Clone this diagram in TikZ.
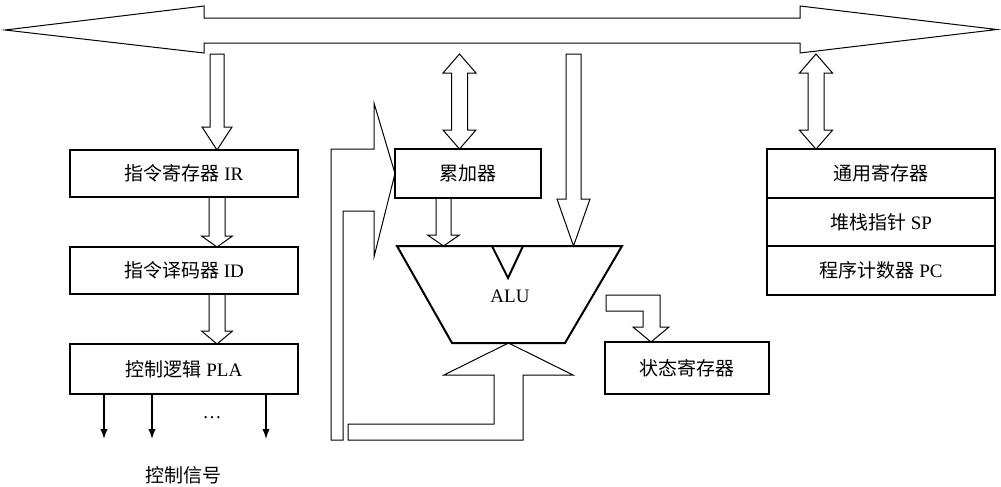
\documentclass[tikz,border=0pt]{standalone}
\usepackage{fontspec}
\setmainfont{Liberation Serif}
\newfontfamily\cjk{Noto Sans CJK SC}
\usetikzlibrary{arrows.meta, positioning, calc}
\newcommand{\lbl}{\fontsize{9.5}{11}\selectfont}
\tikzset{
  every picture/.style={line width=0.5pt, x=0.5pt, y=-0.5pt},
  box/.style={draw, line width=1pt, outer sep=0pt, inner sep=0pt, minimum width=#1, minimum height=24.5pt, font=\lbl},
  box/.default=114pt,
  fat/.style={draw, line width=0.5pt, line join=miter},
  alu/.style={draw, line width=1pt, line join=miter},
  sig/.style={-{Latex[length=5pt, width=3.6pt]}, line width=0.6pt},
  lbl/.style={font=\lbl},
}
% block arrows: start, tip, shaft half width, head half width, head length
\newcommand{\fatdown}[5]{%
  \draw[fat] let \p1=(#1), \p2=(#2) in
    (\x2-#3,\y1) -- (\x2-#3,\y2+#5) -- (\x2-#4,\y2+#5) -- (\p2)
    -- (\x2+#4,\y2+#5) -- (\x2+#3,\y2+#5) -- (\x2+#3,\y1) -- cycle;}
\newcommand{\fatboth}[5]{%
  \draw[fat] let \p1=(#1), \p2=(#2) in
    (\p1) -- (\x1+#4,\y1-#5) -- (\x1+#3,\y1-#5) -- (\x1+#3,\y2+#5)
    -- (\x1+#4,\y2+#5) -- (\x1,\y2) -- (\x1-#4,\y2+#5) -- (\x1-#3,\y2+#5)
    -- (\x1-#3,\y1-#5) -- (\x1-#4,\y1-#5) -- cycle;}

\begin{document}
\begin{tikzpicture}
  \useasboundingbox (0,0) rectangle (1001,487);
  \draw[fat] (5,30) -- (204,6) -- (204,18) -- (800,18) -- (800,6) -- (997,29.5)
    -- (800,53) -- (800,43) -- (204,43) -- (204,53) -- cycle;
  \coordinate (busfoot) at (500,54);

  \node[box, minimum height=23.5pt] (ir) at (184,173.5) {{\cjk 指令寄存器} IR};
  \node[box, minimum height=23.5pt, below=25pt of ir] (id) {{\cjk 指令译码器} ID};
  \node[box, minimum height=25pt, below=25pt of id] (pla) {{\cjk 控制逻辑} PLA};
  \node[box=73pt] (acc) at (468,173.5) {\cjk 累加器};
  \node[box=82pt, minimum height=26pt] (status) at (687,368) {\cjk 状态寄存器};
  \node[box, minimum height=24.3pt] (gp) at (881,173.5) {\cjk 通用寄存器};
  \node[box, minimum height=24.3pt, below=0pt of gp] (sp) {{\cjk 堆栈指针} SP};
  \node[box, minimum height=24.3pt, below=0pt of sp] (pc) {{\cjk 程序计数器} PC};

  \draw[alu] (397,246) -- (622,246) -- (565,343) -- (452,343) -- cycle;
  \draw[alu] (492,246) -- (508,278) -- (523,246);
  \node[lbl] (alu) at (510,296) {ALU};
  \coordinate (alutop) at (510,246);
  \coordinate (alubot) at (508.5,343);

  \coordinate (k1) at (217,0);
  \coordinate (k2) at (459.5,0);
  \coordinate (k3) at (443.5,0);
  \coordinate (k4) at (816,0);
  \coordinate (k5) at (573.5,0);
  \coordinate (k6) at (651,0);
  \fatdown{k1 |- busfoot}{k1 |- ir.north}{3.5pt}{7.5pt}{11.5pt}
  \fatdown{k1 |- ir.south}{k1 |- id.north}{4pt}{7.75pt}{5.5pt}
  \fatdown{k1 |- id.south}{k1 |- pla.north}{4pt}{7.75pt}{6.5pt}
  \fatboth{k2 |- busfoot}{k2 |- acc.north}{4pt}{8.25pt}{9.5pt}
  \fatboth{k4 |- busfoot}{k4 |- gp.north}{4pt}{8.25pt}{9.5pt}
  \fatdown{k3 |- acc.south}{k3 |- alutop}{3.75pt}{8pt}{5.5pt}
  \fatdown{k5 |- busfoot}{k5 |- alutop}{3.75pt}{8.25pt}{23.5pt}

  \draw[fat] (331,440) -- (331,149) -- (374,149) -- (374,103) -- (acc.west)
    -- (374,257) -- (374,211) -- (343,211) -- (343,440) -- cycle;
  \draw[fat] (348,440) -- (348,424) -- (494,424) -- (494,375) -- (444,375) -- (alubot)
    -- (573,375) -- (523,375) -- (523,440) -- cycle;
  \draw[fat] (606,295) -- (660,295) -- (660,327) -- (669,327) -- (k6 |- status.north)
    -- (633,327) -- (643,327) -- (643,311) -- (606,311) -- cycle;

  \coordinate (s1) at (104,439);
  \coordinate (s2) at (152,439);
  \coordinate (s3) at (266,439);
  \foreach \s in {s1,s2,s3}
    \draw[sig] (pla.south -| \s) -- (\s);
  \node[lbl] (dots) at (212,418) {\ldots};
  \node[lbl] (signals) at (183,475) {\cjk 控制信号};
\end{tikzpicture}
\end{document}
